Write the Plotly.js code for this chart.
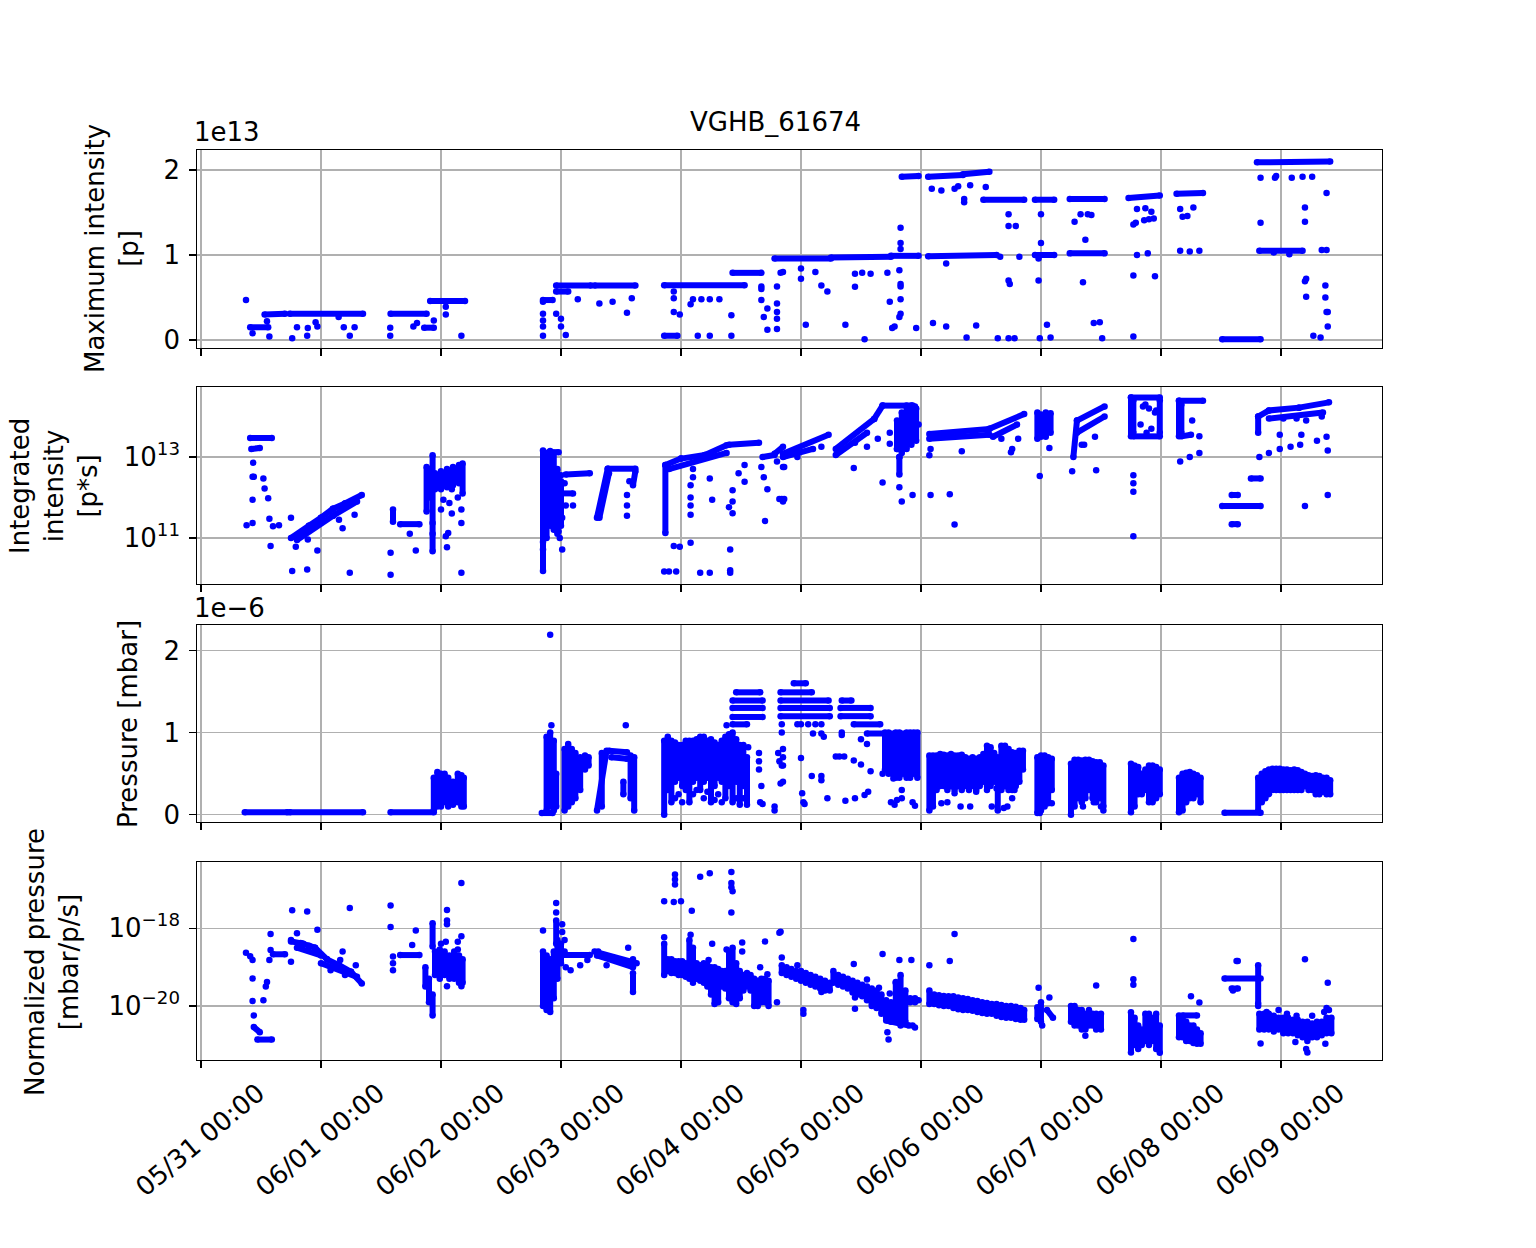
<!DOCTYPE html>
<html>
<head>
<meta charset="utf-8">
<script src="https://cdn.plot.ly/plotly-3.0.1.min.js"></script>
<style>
    body { margin: 0; background: #fff; }
    #grafico { width: 1536px; height: 1248px; }
</style>
</head>
<body>
<div id="grafico"></div>
<script>
// Data. Time is in days since 05/31 00:00.
// Points: [t, value]. Runs (dense stretches of samples): [t0, v0, t1, v1].
// Spans (dense vertical clouds): [t, low, high].

//// Maximum intensity, units of 1e13 p
const maxIntPoints = [
    [0.375,0.47],[0.43,0.08],[0.57,0.04],[0.55,0.22],[0.76,0.02],[0.80,0.15],[0.885,0.05],[0.89,0.14],
    [0.97,0.16],[0.955,0.21],[1.147,0.27],[1.19,0.15],[1.24,0.05],[1.28,0.15],[1.577,0.145],[1.577,0.05],
    [1.77,0.16],[1.80,0.2],[1.94,0.23],[2.04,0.39],[2.04,0.30],[2.17,0.05],[2.85,0.45],[2.85,0.31],
    [2.85,0.23],[2.85,0.16],[2.85,0.05],[2.96,0.31],[3.0,0.25],[3.0,0.16],[3.04,0.06],[3.14,0.48],
    [3.32,0.43],[3.43,0.45],[3.55,0.32],[3.59,0.49],[3.94,0.57],[3.94,0.49],[3.94,0.33],[3.99,0.30],
    [4.10,0.48],[4.08,0.42],[4.14,0.05],[4.24,0.05],[4.17,0.48],[4.24,0.48],[4.32,0.48],[4.42,0.29],
    [4.42,0.05],[4.67,0.63],[4.67,0.47],[4.69,0.27],[4.72,0.37],[4.80,0.63],[4.80,0.43],[4.80,0.33],
    [4.80,0.25],[4.72,0.12],[4.80,0.13],[4.83,0.79],[4.67,0.6],
    [4.85,0.80],[5.0,0.84],[5.0,0.72],[5.04,0.18],[5.12,0.80],[5.17,0.64],[5.22,0.57],[5.37,0.18],
    [5.45,0.78],[5.45,0.625],[5.51,0.79],[5.53,0.01],[5.58,0.78],[5.72,0.79],[5.74,0.45],[5.76,0.14],
    [5.78,0.16],[5.82,0.82],[5.83,0.66],[5.83,0.63],[5.83,0.48],[5.83,0.31],[5.82,0.27],[5.83,1.32],
    [5.83,1.14],[5.83,1.07],[5.96,0.14],
    [6.09,1.78],[6.17,1.76],[6.28,1.78],[6.31,1.81],[6.36,1.66],[6.36,1.62],[6.41,1.82],[6.54,1.80],
    [6.21,0.90],[6.10,0.2],[6.21,0.16],[6.38,0.03],[6.46,0.17],[6.64,0.02],[6.73,0.02],[6.78,0.02],
    [6.73,1.48],[6.73,1.34],[6.79,1.34],[6.73,0.70],[6.74,0.66],[6.82,0.98],[6.66,0.98],
    [6.98,0.96],[6.98,0.70],[7.0,1.14],[7.0,1.48],[7.05,0.18],[6.99,0.02],[7.08,0.03],
    [7.28,1.39],[7.33,1.48],[7.39,1.48],[7.42,1.47],[7.37,1.18],[7.35,0.68],[7.44,0.2],[7.49,0.21],[7.51,0.02],
    [7.77,1.36],[7.79,1.38],[7.9,1.42],[7.94,1.43],[7.86,1.41],[7.92,1.51],[7.80,1.54],[7.87,1.55],
    [7.80,1.0],[7.89,1.02],[7.77,0.76],[7.95,0.75],[7.77,0.04],
    [8.16,1.54],[8.18,1.45],[8.22,1.46],[8.27,1.56],[8.16,1.05],[8.24,1.04],[8.32,1.05],
    [8.83,1.91],[8.95,1.91],[8.96,1.93],[9.09,1.91],[9.18,1.92],[9.26,1.92],[8.83,1.38],[9.2,1.56],
    [9.2,1.39],[9.38,1.73],[8.94,1.03],[9.07,1.01],[9.34,1.06],[9.38,1.06],[9.21,0.72],[9.2,0.69],
    [9.21,0.51],[9.37,0.64],[9.37,0.50],[9.38,0.33],[9.39,0.33],[9.39,0.16],[9.27,0.05],[9.33,0.03]
];
const maxIntRuns = [
    [0.41,0.15,0.56,0.15],[0.53,0.30,0.70,0.31],[0.74,0.31,1.35,0.31],[1.58,0.31,1.88,0.31],
    [1.86,0.145,1.94,0.145],[1.91,0.46,2.20,0.46],[2.85,0.47,2.93,0.47],[2.96,0.64,3.25,0.64],
    [2.96,0.57,3.06,0.57],[3.28,0.64,3.62,0.64],[3.86,0.05,3.97,0.05],[3.86,0.645,4.53,0.645],
    [4.43,0.79,4.67,0.79],[4.78,0.96,5.25,0.96],[5.25,0.97,5.75,0.98],[5.75,0.99,5.98,0.99],
    [6.06,0.985,6.63,1.0],[6.95,1.0,7.11,1.0],[7.24,1.02,7.53,1.02],[5.84,1.92,5.98,1.93],
    [6.06,1.92,6.35,1.94],[6.35,1.95,6.57,1.98],[6.52,1.65,6.86,1.65],[6.95,1.65,7.11,1.65],
    [7.24,1.66,7.53,1.66],[7.73,1.67,7.99,1.70],[8.13,1.72,8.35,1.73],[8.80,2.09,9.41,2.10],
    [8.51,0.01,8.83,0.01],[8.82,1.05,9.18,1.05]
];

//// Integrated intensity, log10 of p*s
const intIntLogPoints = [
    [0.435,12.86],[0.43,12.51],[0.44,12.51],[0.52,12.47],[0.43,11.94],[0.38,11.31],[0.43,11.37],[0.53,12.22],
    [0.56,11.98],[0.57,11.47],[0.58,10.80],[0.6,11.29],[0.65,11.31],[0.75,11.5],[0.79,10.78],[0.76,10.18],
    [0.885,10.22],[0.97,10.69],[1.24,10.14],[1.18,11.24],[1.15,11.45],[1.28,11.57],[0.89,10.96],
    [1.58,10.63],[1.58,10.09],[1.74,11.1],[1.79,10.69],
    [2.02,11.94],[2.07,11.86],[2.0,11.7],[2.17,11.7],[2.17,11.37],[2.04,11.04],[2.06,11.12],[2.05,10.77],
    [1.93,11.37],[1.93,11.1],[2.17,10.14],[2.14,12.0],[2.09,11.6],[2.09,12.2],
    [2.85,10.71],[2.85,10.9],[3.01,10.71],[2.98,11.16],[3.01,11.5],[3.04,11.8],[3.1,11.8],[3.0,12.55],
    [3.03,12.35],[2.96,11.4],[2.99,11.0],
    [3.55,12.06],[3.55,11.8],[3.55,11.55],[3.57,12.4],
    [3.94,10.8],[3.99,10.78],[3.86,10.17],[3.9,10.17],[3.96,10.17],[4.16,10.14],[4.24,10.14],[4.41,10.14],
    [4.41,10.2],[4.08,10.88],[4.08,12.3],[4.08,12.0],[4.08,11.8],[4.08,11.57],[4.1,12.7],[4.1,12.5],
    [4.24,12.47],[4.26,11.94],[4.41,10.71],[4.43,12.18],[4.43,11.9],[4.40,11.76],[4.43,11.61],[4.48,12.6],
    [4.53,12.39],[4.53,12.8],[4.67,12.75],[4.69,12.5],[4.72,12.2],[4.7,11.42],[4.8,12.89],[4.85,12.75],
    [4.82,11.96],[4.84,11.96],[4.86,11.96],[4.85,11.9],[4.97,13.0],[5.17,13.25],[4.86,12.75],
    [5.44,12.73],[5.45,13.35],[5.55,13.25],[5.64,13.45],[5.68,12.37],[5.74,13.6],[5.74,13.33],[5.80,13.2],
    [5.82,13.0],[5.82,12.25],[5.84,11.9],[5.93,12.06],[5.95,14.25],[5.98,13.8],
    [6.07,13.04],[6.08,13.2],[6.34,13.14],[6.08,12.06],[6.24,12.08],[6.28,11.33],[6.67,13.45],[6.76,13.2],
    [6.75,13.12],[6.81,13.45],[6.99,12.53],[7.07,13.22],
    [7.26,12.65],[7.46,12.67],[7.34,13.3],[7.36,13.3],[7.45,13.5],
    [7.87,14.3],[7.95,14.1],[7.92,13.7],[7.85,14.25],[7.9,14.2],[7.96,14.15],[7.83,13.8],[7.88,13.6],
    [7.77,12.55],[7.77,12.35],[7.77,12.14],[7.77,11.04],
    [8.26,13.9],[8.32,13.51],[8.16,12.89],[8.24,13.0],[8.32,13.1],
    [8.82,13.0],[8.9,13.1],[8.99,13.2],[9.08,13.25],[9.16,13.3],[8.99,13.55],[9.17,13.55],[9.02,13.95],
    [9.13,13.95],[9.21,13.9],[9.3,13.4],[9.38,13.5],[9.39,13.16],[9.2,11.79],[9.39,12.06],[9.34,14.0]
];
const intIntLogRuns = [
    [0.41,13.47,0.59,13.47],[0.42,13.2,0.49,13.22],
    [0.75,11.0,0.90,11.3],[0.90,11.3,1.00,11.5],[1.00,11.5,1.10,11.72],[1.10,11.72,1.20,11.85],
    [1.20,11.85,1.34,12.06],[0.80,10.95,1.10,11.55],[1.10,11.55,1.30,11.9],
    [1.66,11.34,1.82,11.34],
    [2.90,13.12,2.98,13.12],[3.04,12.57,3.24,12.6],[2.98,12.1,3.10,12.1],
    [3.30,11.5,3.39,12.71],[3.32,11.5,3.40,12.6],[3.39,12.71,3.62,12.71],[3.60,12.3,3.62,12.65],
    [3.87,12.8,4.0,12.96],[4.0,12.96,4.2,13.05],[4.2,13.05,4.38,13.29],[3.9,12.7,4.38,13.1],
    [4.40,13.3,4.65,13.35],[4.68,13.0,4.78,13.05],[4.78,13.08,4.85,13.25],
    [4.85,13.08,5.23,13.55],[4.85,13.0,5.1,13.2],
    [5.29,13.2,5.61,13.94],[5.29,13.05,5.55,13.6],[5.61,13.94,5.68,14.27],[5.68,14.27,5.93,14.27],
    [6.07,13.57,6.57,13.69],[6.07,13.45,6.57,13.55],[6.57,13.7,6.86,14.06],[6.60,13.5,6.80,13.8],
    [7.27,13.0,7.30,13.9],[7.30,13.9,7.53,14.25],[7.30,13.6,7.53,14.0],
    [7.75,14.47,7.99,14.47],[7.77,13.51,7.99,13.51],
    [8.15,14.39,8.35,14.39],[8.17,13.51,8.25,13.55],
    [8.51,11.79,8.83,11.79],[8.59,12.06,8.64,12.06],[8.59,11.34,8.64,11.34],[8.75,12.47,8.83,12.47],
    [8.81,14.0,8.90,14.15],[8.90,14.15,9.15,14.22],[9.15,14.22,9.40,14.35],[8.9,13.95,9.35,14.1]
];
const intIntLogSpans = [
    [1.60,11.4,11.7],[1.88,11.65,12.75],[1.93,10.67,13.04],
    [1.90,12.0,12.7],[1.95,12.2,12.6],[2.0,12.2,12.65],[2.05,12.25,12.7],[2.1,12.3,12.75],
    [2.15,12.35,12.8],[2.18,12.1,12.84],
    [2.85,10.18,13.16],[2.88,11.0,13.1],[2.91,11.3,13.15],[2.94,11.2,13.1],[2.97,11.1,12.7],[3.0,11.3,12.4],
    [3.87,11.12,12.8],
    [5.80,13.2,13.9],[5.84,13.1,14.1],[5.88,13.2,14.27],[5.92,13.3,14.27],[5.96,13.4,14.2],[5.82,12.57,13.0],
    [6.97,13.45,14.1],[7.0,13.5,14.05],[7.04,13.5,14.1],[7.08,13.6,14.08],
    [7.75,13.51,14.47],[7.77,13.6,14.4],[7.99,13.6,14.4],[8.15,13.51,14.39],[8.17,13.6,14.3],[8.81,13.6,14.0]
];

//// Pressure, units of 1e-6 mbar
const pressurePoints = [
    [2.91,2.19],[2.92,1.09],[3.54,1.09],[4.38,1.09],[4.56,0.82],[4.65,0.75],[4.65,0.65],[4.65,0.55],
    [4.67,0.35],[4.68,0.13],[4.66,0.15],[4.78,0.1],[4.78,0.05],[4.83,0.38],[4.81,0.75],[4.82,0.65],
    [4.84,0.6],[4.84,1.1],[4.84,1.0],
    [3.95,0.2],[3.98,0.25],[4.01,0.15],[4.1,0.25],[4.13,0.3],[4.19,0.2],[4.22,0.28],[4.28,0.18],
    [4.31,0.25],[4.34,0.15],[4.46,0.2],[4.52,0.2],
    [4.85,0.8],[4.85,0.7],[4.85,0.6],[4.85,0.4],[5.0,0.69],[5.09,0.47],[5.17,0.47],[5.17,0.42],
    [5.01,0.26],[5.02,0.15],[5.03,0.13],[5.22,0.2],[5.37,0.17],[5.45,0.2],[5.53,0.24],[5.56,0.28],
    [5.29,0.71],[5.32,0.71],[5.36,0.71],[5.44,0.66],[5.5,0.61],[5.58,0.53],[5.34,0.97],[5.34,1.0],
    [5.5,0.92],[5.55,0.86],[5.1,0.99],[5.17,0.99],[5.19,0.95],[5.68,0.5],[5.72,0.55],[5.77,0.44],
    [5.84,0.3],[5.84,0.2],[5.75,0.15],[5.78,0.12],[5.8,0.18],[5.93,0.15],[5.95,0.11],
    [5.0,1.1],[5.06,1.1],[5.12,1.1],[5.17,1.1],[4.97,1.1],
    [6.17,0.14],[6.22,0.15],[6.28,0.26],[6.33,0.1],[6.41,0.1],[6.46,0.28],[6.59,0.1],[6.63,0.32],
    [6.69,0.08],[6.72,0.1],[6.76,0.2],[6.78,0.3],[6.6,0.45],[6.55,0.35],
    [6.99,0.02],[7.06,0.14],[7.09,0.14],[7.35,0.1],[7.44,0.15],[7.5,0.1],[7.52,0.05]
];
const pressureRuns = [
    [0.365,0.03,0.72,0.03],[0.74,0.03,1.35,0.03],[1.58,0.03,1.94,0.03],[2.84,0.02,2.93,0.02],
    [3.40,0.78,3.55,0.76],[3.42,0.70,3.55,0.68],
    [4.46,1.49,4.66,1.49],[4.43,1.39,4.68,1.39],[4.43,1.30,4.68,1.30],[4.43,1.19,4.68,1.19],[4.43,1.10,4.55,1.10],
    [4.94,1.60,5.04,1.60],[4.83,1.49,5.09,1.49],[4.83,1.39,5.23,1.39],[4.83,1.30,5.24,1.30],
    [4.83,1.20,5.24,1.20],[5.34,1.39,5.42,1.39],[5.33,1.30,5.58,1.30],[5.33,1.20,5.58,1.20],
    [5.44,1.10,5.66,1.10],[5.55,0.99,5.96,0.99],
    [3.30,0.05,3.38,0.78],[8.53,0.025,8.83,0.025]
];
const pressureSpans = [
    [1.94,0.05,0.45],[1.97,0.1,0.52],[2.0,0.1,0.5],[2.03,0.15,0.5],[2.06,0.1,0.45],[2.1,0.12,0.4],
    [2.14,0.15,0.5],[2.17,0.1,0.48],[2.19,0.1,0.45],
    [2.88,0.05,0.95],[2.91,0.1,1.0],[2.94,0.05,0.9],[2.96,0.1,0.5],
    [3.03,0.05,0.8],[3.06,0.1,0.86],[3.09,0.15,0.8],[3.12,0.2,0.75],[3.16,0.3,0.7],[3.2,0.55,0.72],[3.23,0.6,0.7],
    [3.34,0.1,0.75],[3.52,0.25,0.4],[3.58,0.2,0.72],[3.61,0.05,0.7],
    [3.86,0.0,0.9],[3.89,0.3,0.95],[3.92,0.15,0.9],[3.95,0.4,0.88],[3.98,0.45,0.85],[4.01,0.35,0.85],
    [4.04,0.3,0.9],[4.07,0.15,0.9],[4.10,0.4,0.9],[4.13,0.45,0.92],[4.16,0.3,0.95],[4.19,0.4,0.95],
    [4.22,0.45,0.9],[4.25,0.15,0.92],[4.28,0.35,0.88],[4.31,0.45,0.85],[4.34,0.4,0.9],[4.37,0.2,0.95],
    [4.40,0.35,0.98],[4.43,0.15,1.0],[4.46,0.4,0.92],[4.49,0.12,0.85],[4.52,0.35,0.85],[4.55,0.12,0.7],
    [5.70,0.55,1.0],[5.73,0.5,1.0],[5.76,0.5,0.95],[5.79,0.45,1.0],[5.82,0.45,1.0],[5.85,0.5,0.95],
    [5.88,0.45,1.0],[5.91,0.45,1.0],[5.94,0.5,1.0],[5.97,0.45,1.0],
    [6.07,0.05,0.72],[6.10,0.1,0.72],[6.13,0.3,0.72],[6.16,0.35,0.74],[6.19,0.35,0.73],[6.22,0.3,0.72],
    [6.25,0.35,0.74],[6.28,0.3,0.72],[6.31,0.35,0.72],[6.34,0.3,0.73],[6.37,0.35,0.7],[6.40,0.3,0.68],
    [6.43,0.35,0.7],[6.46,0.3,0.68],[6.49,0.35,0.7],[6.52,0.4,0.74],[6.55,0.3,0.84],[6.58,0.35,0.82],
    [6.61,0.4,0.75],[6.64,0.05,0.7],[6.67,0.3,0.84],[6.70,0.35,0.84],[6.73,0.3,0.8],[6.76,0.3,0.76],
    [6.79,0.35,0.75],[6.82,0.4,0.78],[6.85,0.55,0.78],
    [6.97,0.02,0.7],[7.0,0.05,0.72],[7.03,0.1,0.72],[7.06,0.15,0.7],[7.09,0.3,0.68],
    [7.25,0.0,0.62],[7.28,0.1,0.67],[7.31,0.2,0.67],[7.34,0.15,0.66],[7.37,0.2,0.67],[7.40,0.3,0.67],
    [7.43,0.2,0.65],[7.46,0.15,0.64],[7.49,0.2,0.64],[7.52,0.1,0.6],
    [7.75,0.03,0.62],[7.78,0.1,0.6],[7.81,0.25,0.58],[7.84,0.25,0.5],[7.87,0.3,0.55],[7.90,0.15,0.6],
    [7.93,0.15,0.6],[7.96,0.2,0.58],[7.99,0.25,0.55],
    [8.15,0.03,0.45],[8.18,0.05,0.5],[8.21,0.15,0.51],[8.24,0.2,0.52],[8.27,0.2,0.5],[8.30,0.25,0.48],[8.33,0.15,0.45],
    [8.81,0.04,0.45],[8.84,0.15,0.5],[8.87,0.2,0.53],[8.90,0.25,0.55],[8.93,0.3,0.56],[8.96,0.3,0.56],
    [8.99,0.3,0.56],[9.02,0.3,0.55],[9.05,0.3,0.55],[9.08,0.3,0.54],[9.11,0.3,0.55],[9.14,0.3,0.54],
    [9.17,0.3,0.52],[9.20,0.35,0.5],[9.23,0.3,0.48],[9.26,0.3,0.47],[9.29,0.25,0.48],[9.32,0.25,0.47],
    [9.35,0.28,0.45],[9.38,0.25,0.45],[9.41,0.25,0.42]
];

//// Normalized pressure, log10 of mbar/p/s
const normPresLogPoints = [
    [0.375,-18.63],[0.41,-18.72],[0.43,-18.82],[0.43,-19.29],[0.43,-19.87],[0.44,-20.24],[0.52,-19.85],
    [0.54,-19.5],[0.55,-19.38],[0.57,-18.82],[0.58,-18.15],[0.58,-18.56],[0.76,-17.54],[0.885,-17.57],
    [1.24,-17.48],[0.8,-18.13],[0.75,-18.3],[0.75,-18.86],[0.97,-18.04],[1.18,-18.6],[1.16,-18.82],
    [1.29,-18.95],[1.08,-19.08],[1.2,-19.2],[0.9,-18.45],[0.83,-18.38],
    [1.58,-17.42],[1.58,-17.97],[1.60,-18.73],[1.60,-18.9],[1.60,-19.08],[1.76,-18.43],[1.79,-18.06],
    [2.05,-17.53],[2.05,-17.8],[2.05,-17.9],[2.17,-16.84],[2.17,-18.21],[2.14,-18.35],[2.14,-18.55],
    [2.04,-18.35],[2.05,-19.49],[2.17,-19.49],[2.0,-18.4],
    [2.85,-18.06],[2.96,-17.35],[2.96,-17.6],[3.01,-17.9],[3.01,-18.1],[3.03,-18.3],[3.03,-18.6],
    [3.04,-19.0],[3.08,-19.08],[3.16,-18.95],[3.22,-18.82],[2.9,-19.6],
    [3.31,-18.6],[3.56,-18.5],[3.6,-18.8],[3.38,-18.95],[3.48,-18.8],
    [3.95,-16.62],[3.95,-16.75],[3.95,-16.88],[3.86,-17.31],[3.94,-17.33],[4.0,-17.31],[4.16,-16.68],
    [4.24,-16.59],[4.42,-16.56],[4.42,-16.84],[4.42,-16.95],[4.43,-17.05],[4.42,-17.6],[4.09,-17.55],
    [4.08,-18.17],[3.86,-18.23],
    [4.23,-18.82],[4.26,-18.4],[4.38,-18.55],[4.51,-18.37],[4.51,-18.6],[4.70,-18.34],[4.72,-19.18],
    [4.80,-19.9],[4.66,-19.0],[4.83,-18.09],[4.82,-18.12],[4.84,-18.75],
    [5.17,-19.64],[5.02,-20.2],[5.02,-20.1],[4.97,-18.95],
    [5.44,-18.92],[5.55,-19.32],[5.65,-19.53],[5.68,-18.66],[5.45,-20.07],[5.45,-19.78],[5.59,-20.0],
    [5.72,-20.67],[5.73,-20.86],[5.74,-19.68],[5.79,-19.38],[5.82,-18.82],[5.92,-18.82],[5.93,-20.5],
    [5.95,-20.55],[5.83,-20.2],[5.77,-20.0],
    [6.07,-18.95],[6.24,-18.84],[6.28,-18.15],
    [6.98,-19.53],[7.07,-19.78],[7.01,-20.5],[7.46,-19.47],[7.37,-20.76],[7.28,-20.25],
    [7.77,-18.28],[7.77,-19.31],[7.77,-19.45],[7.95,-20.4],[8.25,-19.75],[8.32,-19.91],
    [8.63,-18.84],[8.64,-18.84],[8.60,-19.6],[8.81,-20.0],
    [9.2,-18.8],[9.39,-19.4],[8.83,-20.96],[9.12,-20.92],[9.22,-21.19],[9.21,-21.1],[9.37,-20.97],
    [9.38,-20.4],[8.88,-20.15],[8.98,-20.1],[9.05,-20.2],[9.13,-20.25],[9.26,-20.25],[9.36,-20.15],
    [9.38,-20.05],[9.4,-20.1]
];
const normPresLogRuns = [
    [0.47,-20.86,0.59,-20.86],[0.44,-20.54,0.49,-20.67],[0.60,-18.67,0.70,-18.67],
    [0.75,-18.34,0.85,-18.4],[0.85,-18.4,0.95,-18.5],[0.95,-18.5,1.05,-18.8],[1.05,-18.8,1.15,-18.95],
    [1.15,-18.95,1.25,-19.12],[1.25,-19.12,1.34,-19.42],[0.8,-18.5,1.0,-18.7],[1.0,-18.9,1.3,-19.25],
    [1.66,-18.69,1.82,-18.69],
    [2.96,-18.69,3.24,-18.69],[3.28,-18.6,3.63,-18.9],[3.3,-18.7,3.6,-19.0],
    [5.81,-19.78,5.98,-19.85],[5.71,-20.37,5.9,-20.5],
    [7.05,-20.1,7.1,-20.3],[8.18,-20.24,8.3,-20.24],
    [8.53,-19.29,8.83,-19.29],[8.59,-19.55,8.64,-19.55]
];
const normPresLogSpans = [
    [1.87,-19.5,-19.0],[1.90,-19.9,-19.3],[1.93,-20.24,-19.7],[1.93,-18.47,-17.87],
    [1.95,-19.2,-18.6],[1.99,-19.3,-18.55],[2.03,-19.2,-18.6],[2.07,-19.3,-18.7],[2.11,-19.3,-18.6],
    [2.15,-19.4,-18.7],[2.18,-19.4,-18.8],
    [2.85,-20.0,-18.6],[2.88,-20.1,-18.7],[2.91,-20.15,-18.8],[2.94,-19.8,-18.6],[2.97,-19.3,-18.3],
    [3.0,-18.9,-18.4],[2.96,-18.4,-17.8],[3.6,-19.64,-19.16],
    [3.86,-19.2,-18.4],[3.89,-19.1,-18.8],[3.92,-19.15,-18.8],[3.95,-19.15,-18.85],[3.98,-19.2,-18.85],
    [4.01,-19.2,-18.85],[4.04,-19.25,-18.9],[4.07,-19.3,-18.3],[4.10,-19.4,-18.5],[4.13,-19.3,-18.9],
    [4.16,-19.35,-18.95],[4.19,-19.4,-18.9],[4.22,-19.5,-18.95],[4.25,-19.7,-19.0],[4.28,-19.95,-19.0],
    [4.31,-19.9,-19.05],[4.34,-19.5,-19.1],[4.37,-19.55,-19.1],[4.40,-19.8,-18.6],[4.43,-19.9,-18.5],
    [4.46,-19.95,-18.9],[4.49,-19.8,-19.1],[4.52,-19.6,-19.2],[4.55,-19.5,-19.15],[4.58,-19.6,-19.2],
    [4.61,-20.0,-19.3],[4.64,-20.0,-19.35],[4.67,-19.9,-19.3],[4.70,-19.9,-19.3],[4.73,-20.0,-19.35],
    [4.84,-19.15,-18.95],[4.88,-19.2,-19.0],[4.92,-19.25,-19.05],[4.96,-19.3,-19.1],[5.00,-19.35,-19.1],
    [5.04,-19.4,-19.15],[5.08,-19.45,-19.2],[5.12,-19.5,-19.25],[5.16,-19.55,-19.3],[5.20,-19.6,-19.35],
    [5.24,-19.6,-19.4],
    [5.27,-19.4,-19.1],[5.31,-19.45,-19.2],[5.35,-19.5,-19.25],[5.39,-19.55,-19.3],[5.43,-19.65,-19.35],
    [5.47,-19.7,-19.4],[5.51,-19.75,-19.45],[5.55,-19.85,-19.5],[5.59,-19.95,-19.55],[5.63,-20.05,-19.6],
    [5.67,-20.2,-19.7],[5.71,-20.3,-19.85],[5.75,-20.4,-19.9],[5.79,-20.4,-19.4],[5.83,-20.5,-19.2],
    [5.87,-20.4,-19.6],[5.91,-19.9,-19.8],[5.95,-19.9,-19.8],
    [6.07,-19.95,-19.6],[6.11,-19.95,-19.7],[6.15,-19.98,-19.72],[6.19,-20.0,-19.74],[6.23,-20.0,-19.75],
    [6.27,-20.05,-19.75],[6.31,-20.08,-19.78],[6.35,-20.1,-19.8],[6.39,-20.1,-19.82],[6.43,-20.12,-19.85],
    [6.47,-20.15,-19.87],[6.51,-20.18,-19.9],[6.55,-20.2,-19.92],[6.59,-20.2,-19.95],[6.63,-20.25,-19.95],
    [6.67,-20.28,-19.97],[6.71,-20.3,-20.0],[6.75,-20.3,-20.0],[6.79,-20.33,-20.02],[6.83,-20.35,-20.05],
    [6.86,-20.35,-20.1],
    [6.97,-20.33,-20.03],[7.0,-20.4,-19.9],
    [7.25,-20.4,-20.0],[7.28,-20.5,-20.0],[7.31,-20.5,-20.1],[7.34,-20.6,-20.1],[7.37,-20.6,-20.2],
    [7.40,-20.5,-20.1],[7.43,-20.5,-20.2],[7.46,-20.6,-20.2],[7.50,-20.6,-20.2],
    [7.75,-21.19,-20.16],[7.78,-21.0,-20.3],[7.81,-21.1,-20.5],[7.84,-21.0,-20.6],[7.87,-20.9,-20.2],
    [7.90,-21.0,-20.2],[7.93,-20.9,-20.3],[7.96,-21.1,-20.2],[7.99,-21.2,-20.5],
    [8.15,-20.8,-20.24],[8.18,-20.8,-20.3],[8.21,-20.9,-20.4],[8.24,-20.9,-20.5],[8.27,-20.95,-20.5],
    [8.30,-20.97,-20.6],[8.33,-20.97,-20.7],[8.81,-19.94,-18.95],
    [8.82,-20.6,-20.2],[8.86,-20.6,-20.2],[8.90,-20.6,-20.2],[8.94,-20.65,-20.25],[8.98,-20.6,-20.3],
    [9.02,-20.7,-20.3],[9.06,-20.7,-20.3],[9.10,-20.7,-20.35],[9.14,-20.75,-20.35],[9.18,-20.8,-20.4],
    [9.22,-20.9,-20.4],[9.26,-20.8,-20.45],[9.30,-20.8,-20.4],[9.34,-20.75,-20.4],[9.38,-20.7,-20.3],
    [9.42,-20.7,-20.3]
];

// Eixo de tempo
const day0 = Date.UTC(2023, 4, 31);
function toDate(t) {
    return new Date(day0 + t * 864e5).toISOString().replace("T", " ").replace("Z", "");
}
const linear = v => v;
const pow10 = v => Math.pow(10, v);

function pointsTrace(pts, n, conv) {
    return {
        x: pts.map(p => toDate(p[0])),
        y: pts.map(p => conv(p[1])),
        xaxis: "x" + n, yaxis: "y" + n,
        type: "scatter", mode: "markers",
        marker: {color: "blue", size: 6.5},
        hoverinfo: "skip", showlegend: false
    };
}

function runsTrace(runs, n, conv) {
    let x = [], y = [];
    runs.forEach(r => {
        x.push(toDate(r[0]), toDate(r[2]), null);
        y.push(conv(r[1]), conv(r[3]), null);
    });
    return {
        x: x, y: y,
        xaxis: "x" + n, yaxis: "y" + n,
        type: "scatter", mode: "lines+markers",
        line: {color: "blue", width: 6},
        marker: {color: "blue", size: 6.5},
        hoverinfo: "skip", showlegend: false
    };
}

const spansToRuns = spans => spans.map(s => [s[0], s[1], s[0], s[2]]);

var data = [
    runsTrace(maxIntRuns, "", linear),
    pointsTrace(maxIntPoints, "", linear),
    runsTrace(intIntLogRuns.concat(spansToRuns(intIntLogSpans)), "2", pow10),
    pointsTrace(intIntLogPoints, "2", pow10),
    runsTrace(pressureRuns.concat(spansToRuns(pressureSpans)), "3", linear),
    pointsTrace(pressurePoints, "3", linear),
    runsTrace(normPresLogRuns.concat(spansToRuns(normPresLogSpans)), "4", pow10),
    pointsTrace(normPresLogPoints, "4", pow10)
];

// Layout
const W = 1536, H = 1248;
const dom = (top, bottom) => [1 - bottom / H, 1 - top / H];
const fonte = {family: "DejaVu Sans", size: 26, color: "black"};

const xBase = {
    type: "date",
    range: [toDate(-0.0333), toDate(9.842)],
    tick0: toDate(0), dtick: 864e5,
    showgrid: true, gridcolor: "#b0b0b0", gridwidth: 1.3,
    showline: true, mirror: true, linecolor: "black", linewidth: 1.3,
    ticks: "outside", ticklen: 6.5, tickwidth: 1.3, tickcolor: "black",
    zeroline: false, domain: [197 / W, 1382 / W],
    showticklabels: false
};
const yBase = {
    showgrid: true, gridcolor: "#b0b0b0", gridwidth: 1.3,
    showline: true, mirror: true, linecolor: "black", linewidth: 1.3,
    ticks: "outside", ticklen: 6.5, tickwidth: 1.3, tickcolor: "black",
    zeroline: false, tickfont: fonte, ticklabelstandoff: 4
};

var layout = {
    width: W, height: H,
    margin: {l: 0, r: 0, t: 0, b: 0},
    paper_bgcolor: "white", plot_bgcolor: "white",
    font: fonte,
    showlegend: false,
    xaxis: Object.assign({}, xBase, {anchor: "y"}),
    xaxis2: Object.assign({}, xBase, {anchor: "y2"}),
    xaxis3: Object.assign({}, xBase, {anchor: "y3"}),
    xaxis4: Object.assign({}, xBase, {
        anchor: "y4", showticklabels: true, tickformat: "%m/%d %H:%M",
        tickangle: -40, tickfont: fonte, ticklabelshift: 57
    }),
    yaxis: Object.assign({}, yBase, {
        anchor: "x", domain: dom(150, 348), range: [-0.094, 2.235], tickvals: [0, 1, 2]
    }),
    yaxis2: Object.assign({}, yBase, {
        anchor: "x2", domain: dom(387, 584), type: "log", range: [9.86, 14.73],
        tickvals: [1e11, 1e13], ticktext: ["10<sup>11</sup>", "10<sup>13</sup>"]
    }),
    yaxis3: Object.assign({}, yBase, {
        anchor: "x3", domain: dom(625, 822), range: [-0.089, 2.31], tickvals: [0, 1, 2]
    }),
    yaxis4: Object.assign({}, yBase, {
        anchor: "x4", domain: dom(862, 1060), type: "log", range: [-21.385, -16.30],
        tickvals: [1e-20, 1e-18], ticktext: ["10<sup>\u221220</sup>", "10<sup>\u221218</sup>"]
    }),
    annotations: [
        {text: "VGHB_61674", x: 775 / W, y: 1 - 122 / H, xref: "paper", yref: "paper",
         xanchor: "center", yanchor: "middle", showarrow: false, font: fonte},
        {text: "1e13", x: 192 / W, y: 1 - 132 / H, xref: "paper", yref: "paper",
         xanchor: "left", yanchor: "middle", showarrow: false, font: fonte},
        {text: "1e\u22126", x: 192 / W, y: 1 - 608 / H, xref: "paper", yref: "paper",
         xanchor: "left", yanchor: "middle", showarrow: false, font: fonte},
        {text: "Maximum intensity<br>[p]", x: 112 / W, y: 1 - 249 / H, xref: "paper", yref: "paper",
         textangle: -90, xanchor: "center", yanchor: "middle", showarrow: false, font: fonte},
        {text: "Integrated<br>intensity<br>[p*s]", x: 54 / W, y: 1 - 486 / H, xref: "paper", yref: "paper",
         textangle: -90, xanchor: "center", yanchor: "middle", showarrow: false, font: fonte},
        {text: "Pressure [mbar]", x: 128 / W, y: 1 - 724 / H, xref: "paper", yref: "paper",
         textangle: -90, xanchor: "center", yanchor: "middle", showarrow: false, font: fonte},
        {text: "Normalized pressure<br>[mbar/p/s]", x: 52 / W, y: 1 - 962 / H, xref: "paper", yref: "paper",
         textangle: -90, xanchor: "center", yanchor: "middle", showarrow: false, font: fonte}
    ]
};

Plotly.newPlot("grafico", data, layout, {displayModeBar: false, staticPlot: true});
</script>
</body>
</html>
